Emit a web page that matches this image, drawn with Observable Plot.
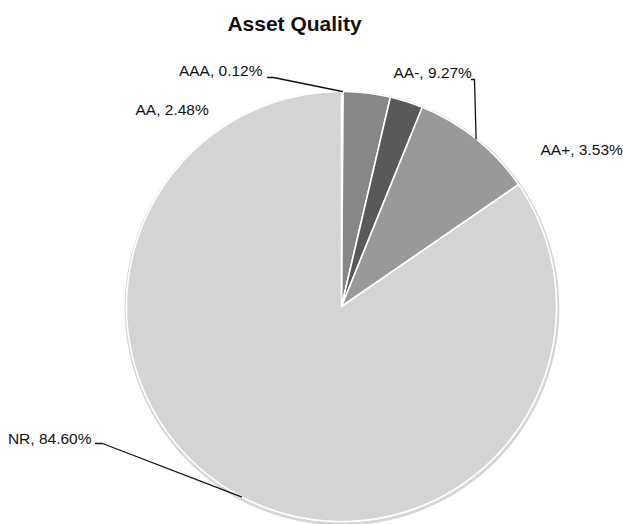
<!DOCTYPE html>
<html>
<head>
<meta charset="utf-8">
<script src="https://cdn.jsdelivr.net/npm/d3@7"></script>
<script src="https://cdn.jsdelivr.net/npm/@observablehq/plot@0.6"></script>
<style>
  html, body { margin: 0; padding: 0; background: #fff; }
  #chart { width: 623px; height: 524px; }
</style>
</head>
<body>
<div id="chart"></div>
<script>
// ---- data ----
const title = "Asset Quality";
const names = ["AAA", "AA+", "AA", "AA-", "NR"];
const values = [0.12, 3.53, 2.48, 9.27, 84.60];
const colors = ["#a3a3a3", "#878787", "#595959", "#999999", "#d4d4d4"];

// ---- layout (pixels) ----
const CX = 341, CY = 306, R = 215;
const labelLayout = {
  "AAA": {x: 262, y: 71, anchor: "end"},
  "AA-": {x: 393, y: 72.5, anchor: "start"},
  "AA+": {x: 540, y: 149.5, anchor: "start"},
  "AA":  {x: 135, y: 109.5, anchor: "start"},
  "NR":  {x: 91, y: 438.5, anchor: "end"}
};
const leaderStart = {
  "AAA": [[267, 77], [273, 77]],
  "AA-": [[471, 79], [474, 79]],
  "NR":  [[95, 443], [102, 443]]
};
const titlePos = {x: 294, y: 24};

const ux = px => (px - CX) / R;
const uy = py => (CY - py) / R;

// ---- build slices ----
const total = d3.sum(values);
let acc = 0;
const slices = names.map((name, i) => {
  const a0 = acc / total * 2 * Math.PI;
  acc += values[i];
  const a1 = acc / total * 2 * Math.PI;
  return {name, value: values[i], color: colors[i], a0, a1, mid: (a0 + a1) / 2};
});

const polyPts = [];
for (const s of slices) {
  polyPts.push({name: s.name, color: s.color, x: 0, y: 0});
  const n = Math.max(2, Math.ceil((s.a1 - s.a0) / (Math.PI / 720)));
  for (let k = 0; k <= n; k++) {
    const a = s.a0 + (s.a1 - s.a0) * k / n;
    polyPts.push({name: s.name, color: s.color, x: Math.sin(a), y: Math.cos(a)});
  }
  polyPts.push({name: s.name, color: s.color, x: 0, y: 0});
}

const ring = d3.range(0, 721).map(k => {
  const a = k / 720 * 2 * Math.PI;
  return {x: Math.sin(a) * 1.004, y: Math.cos(a) * 1.004};
});

const labelRows = slices.map(s => {
  const L = labelLayout[s.name];
  return {text: `${s.name}, ${s.value.toFixed(2)}%`, x: ux(L.x), y: uy(L.y), anchor: L.anchor};
});

const leaders = [];
for (const s of slices) {
  const st = leaderStart[s.name];
  if (!st) continue;
  for (const [px, py] of st) leaders.push({name: s.name, x: ux(px), y: uy(py)});
  leaders.push({name: s.name, x: Math.sin(s.mid), y: Math.cos(s.mid)});
}

const font = "'Liberation Sans Narrow','Arial Narrow','Liberation Sans',Arial,sans-serif";

const chart = Plot.plot({
  width: 623,
  height: 524,
  margin: 0,
  style: {fontFamily: font, background: "#ffffff", overflow: "visible"},
  x: {domain: [-1, 1], range: [CX - R, CX + R], axis: null},
  y: {domain: [-1, 1], range: [CY + R, CY - R], axis: null},
  color: {type: "identity"},
  marks: [
    Plot.line(ring, {x: "x", y: "y", stroke: "#b5b5b5", strokeWidth: 3, strokeOpacity: 0.55, dy: 1.5, dx: 0.5}),
    Plot.line(polyPts, {x: "x", y: "y", z: "name", fill: "color", stroke: "#ffffff", strokeWidth: 1.6, strokeLinejoin: "round", curve: "linear"}),
    Plot.line(leaders, {x: "x", y: "y", z: "name", stroke: "#111111", strokeWidth: 1.3, curve: "linear"}),
    Plot.text(labelRows.filter(d => d.anchor === "start"), {x: "x", y: "y", text: "text", textAnchor: "start", lineAnchor: "middle", fontSize: 15.5, fill: "#111111"}),
    Plot.text(labelRows.filter(d => d.anchor === "end"), {x: "x", y: "y", text: "text", textAnchor: "end", lineAnchor: "middle", fontSize: 15.5, fill: "#111111"}),
    Plot.text([title], {x: () => ux(titlePos.x), y: () => uy(titlePos.y), text: d => d, textAnchor: "middle", lineAnchor: "middle", fontSize: 21, fontWeight: "bold", fill: "#111111"})
  ]
});
document.getElementById("chart").appendChild(chart);
</script>
</body>
</html>
